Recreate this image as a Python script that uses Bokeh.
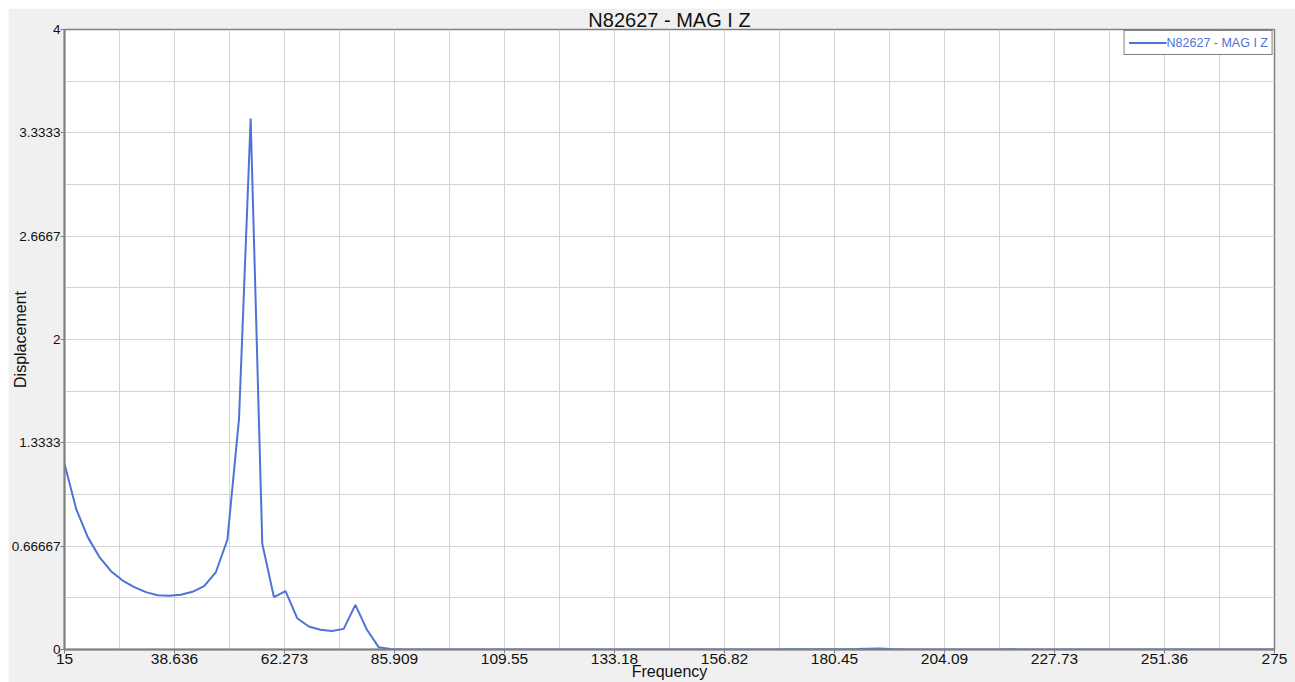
from bokeh.plotting import figure
from bokeh.models import FixedTicker, Legend
from bokeh.embed import file_html
from bokeh.resources import INLINE

# ---- data ----
frequency = [
    15.0, 17.5, 20.0, 22.5, 25.0, 27.5, 30.0, 32.5, 35.0, 37.5,
    40.0, 42.5, 45.0, 47.5, 50.0, 52.5, 55.0, 57.5, 60.0, 62.5,
    65.0, 67.5, 70.0, 72.5, 75.0, 77.5, 80.0, 82.5, 85.0, 87.5,
    90.0, 92.5, 95.0, 97.5, 100.0, 102.5, 105.0, 107.5, 110.0, 112.5,
    115.0, 117.5, 120.0, 122.5, 125.0, 127.5, 130.0, 132.5, 135.0, 137.5,
    140.0, 142.5, 145.0, 147.5, 150.0, 152.5, 155.0, 157.5, 160.0, 162.5,
    165.0, 167.5, 170.0, 172.5, 175.0, 177.5, 180.0, 182.5, 185.0, 187.5,
    190.0, 192.5, 195.0, 197.5, 200.0, 202.5, 205.0, 207.5, 210.0, 212.5,
    215.0, 217.5, 220.0, 222.5, 225.0, 227.5, 230.0, 232.5, 235.0, 237.5,
    240.0, 242.5, 245.0, 247.5, 250.0, 252.5, 255.0, 257.5, 260.0, 262.5,
    265.0, 267.5, 270.0, 272.5, 275.0,
]
displacement = [
    1.198, 0.908, 0.725, 0.596, 0.505, 0.445, 0.402, 0.370, 0.350, 0.346,
    0.353, 0.372, 0.409, 0.497, 0.708, 1.488, 3.426, 0.682, 0.338, 0.376,
    0.202, 0.148, 0.127, 0.120, 0.133, 0.288, 0.127, 0.015, 0.003, 0.001,
    0.0008, 0.0007, 0.0006, 0.0006, 0.0005, 0.0005, 0.0005, 0.0004, 0.0004, 0.0004,
    0.0004, 0.0004, 0.0004, 0.0004, 0.0004, 0.0004, 0.0004, 0.0004, 0.0004, 0.0004,
    0.0005, 0.0005, 0.0005, 0.0005, 0.0005, 0.0005, 0.0006, 0.0006, 0.0006, 0.0007,
    0.0007, 0.0008, 0.0009, 0.0010, 0.0012, 0.0014, 0.0017, 0.0022, 0.0030, 0.0045,
    0.0060, 0.0030, 0.0012, 0.0008, 0.0006, 0.0005, 0.0005, 0.0005, 0.0005, 0.0006,
    0.0008, 0.0012, 0.0008, 0.0005, 0.0004, 0.0004, 0.0004, 0.0004, 0.0004, 0.0004,
    0.0004, 0.0004, 0.0004, 0.0004, 0.0004, 0.0004, 0.0004, 0.0004, 0.0004, 0.0004,
    0.0004, 0.0004, 0.0004, 0.0004, 0.0004,
]
x_tick_values = [15, 38.636, 62.273, 85.909, 109.55, 133.18, 156.82, 180.45, 204.09, 227.73, 251.36, 275]
x_tick_labels = ["15", "38.636", "62.273", "85.909", "109.55", "133.18", "156.82", "180.45",
                 "204.09", "227.73", "251.36", "275"]
y_tick_values = [0, 0.66667, 1.3333, 2, 2.6667, 3.3333, 4]
y_tick_labels = ["0", "0.66667", "1.3333", "2", "2.6667", "3.3333", "4"]
series_name = "N82627 - MAG I Z"

# ---- styling ----
FONT = "Liberation Sans"
LINE = "#4f72d9"
GRID = "#d4d4d4"
AXIS = "#808080"

p = figure(width=1287, height=674, output_backend="svg", toolbar_location=None,
           x_range=(15, 275), y_range=(0, 4),
           min_border_left=56, min_border_right=21, min_border_top=21, min_border_bottom=33)
p.margin = (8, 0, 0, 8)

p.title.text = series_name
p.title.align = "center"
p.title.text_font = FONT
p.title.text_font_style = "normal"
p.title.text_font_size = "20px"
p.title.text_color = "#111111"
p.title.offset = 0
p.title.standoff = -3

p.border_fill_color = "#f0f0f0"
p.background_fill_color = "white"
p.outline_line_color = AXIS
p.outline_line_width = 1.5

r = p.line(frequency, displacement, line_color=LINE, line_width=2)

x_minor = [(a + b) / 2 for a, b in zip(x_tick_values[:-1], x_tick_values[1:])]
y_minor = [(a + b) / 2 for a, b in zip(y_tick_values[:-1], y_tick_values[1:])]
p.xaxis.ticker = FixedTicker(ticks=x_tick_values, minor_ticks=x_minor)
p.yaxis.ticker = FixedTicker(ticks=y_tick_values, minor_ticks=y_minor)
p.xaxis.major_label_overrides = {v: l for v, l in zip(x_tick_values, x_tick_labels)}
p.yaxis.major_label_overrides = {v: l for v, l in zip(y_tick_values, y_tick_labels)}

for ax in (p.xaxis, p.yaxis):
    ax.axis_line_color = AXIS
    ax.axis_line_width = 2
    ax.major_tick_line_color = AXIS
    ax.major_tick_out = 4
    ax.major_tick_in = 0
    ax.minor_tick_out = 0
    ax.minor_tick_in = 0
    ax.major_label_text_font = FONT
    ax.major_label_text_color = "#111111"
    ax.major_label_standoff = 0
    ax.axis_label_text_font = FONT
    ax.axis_label_text_font_size = "16px"
    ax.axis_label_text_font_style = "normal"
    ax.axis_label_text_color = "#111111"

p.xaxis.major_label_text_font_size = "15.5px"
p.yaxis.major_label_text_font_size = "13.5px"
p.xaxis.axis_label = "Frequency"
p.yaxis.axis_label = "Displacement"
p.xaxis.axis_label_standoff = -4
p.yaxis.axis_label_standoff = -20

for g in (p.xgrid, p.ygrid):
    g.grid_line_color = GRID
    g.grid_line_width = 1
    g.minor_grid_line_color = GRID
    g.minor_grid_line_width = 1

legend = Legend(items=[(series_name, [r])], location="top_right")
legend.margin = 1
legend.padding = 4
legend.spacing = 0
legend.glyph_width = 38
legend.glyph_height = 15
legend.label_height = 15
legend.label_standoff = -5
legend.label_text_font = FONT
legend.label_text_font_size = "12.5px"
legend.label_text_color = LINE
legend.border_line_color = "black"
legend.border_line_width = 1
legend.background_fill_color = "white"
legend.background_fill_alpha = 1
p.add_layout(legend, "center")

open("out.html", "w").write(file_html(p, INLINE))
